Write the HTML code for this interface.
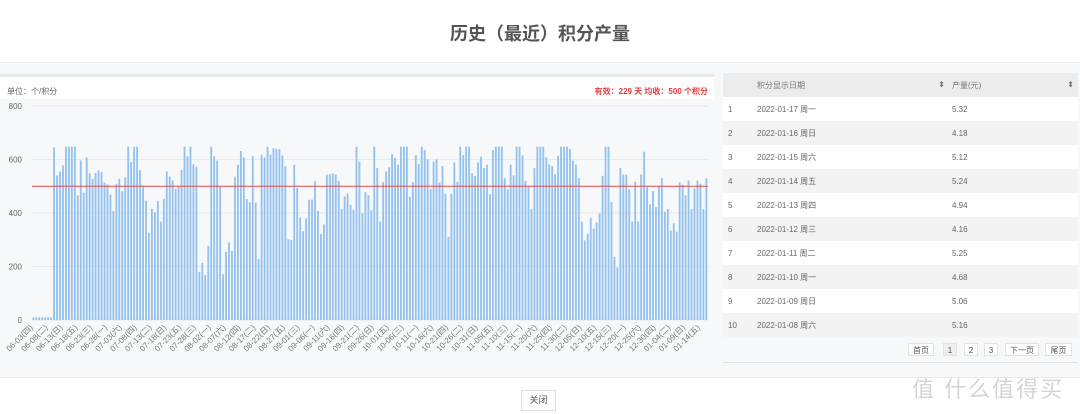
<!DOCTYPE html>
<html><head><meta charset="utf-8">
<style>
*{margin:0;padding:0;box-sizing:border-box}
body{width:1080px;height:414px;background:#fff;font-family:"Liberation Sans","Noto Sans CJK SC",sans-serif;position:relative;overflow:hidden}
.title{position:absolute;top:20px;left:0;width:1080px;text-align:center;font-size:18px;font-weight:bold;color:#555}
.panel{position:absolute;top:62px;left:0;width:1080px;height:316px;background:#f7f8fa;border-top:1px solid #eceef1;border-bottom:1px solid #e6e8eb}
.card{position:absolute;top:11px;left:0;width:714px;height:304px;border-top:3px solid #e8e9ec}
.unit{position:absolute;top:0;left:0;width:714px;height:22px;background:#fff;font-size:8px;color:#666;padding:9px 0 0 7px}
.eff{position:absolute;right:6px;top:9px;color:#e4393c;font-weight:bold;font-size:8px}
svg{position:absolute;left:0;top:0}
table{position:absolute;left:723px;top:73px;width:355px;border-collapse:collapse;font-size:8px;color:#666}
th{background:#ececec;height:24px;font-weight:normal;text-align:left;color:#777}
td{height:24px}
tr.o td{background:#fff} tr.e td{background:#f3f3f3}
.pg{position:absolute;top:343px;left:723px;width:355px;height:13px;font-size:8px;color:#555}
.pg span{position:absolute;top:0;height:13px;line-height:13px;text-align:center;background:#fff;border:1px solid #e2e2e2}
.tb{position:absolute;top:362px;left:723px;width:355px;border-top:1px solid #e2e2e2}
.btn{position:absolute;left:521px;top:390px;width:35px;height:21px;border:1px solid #ddd;background:#fff;font-size:9px;color:#555;text-align:center;line-height:19px}
.wm{position:absolute;left:912px;top:372px;font-size:22px;color:#d4d4d4;letter-spacing:2px}
</style></head><body>
<div class="title">历史（最近）积分产量</div>
<div class="panel">
 <div class="card"><div class="unit">单位：个/积分<span class="eff">有效：229 天 均收：500 个积分</span></div></div>
</div>
<svg id="c" width="720" height="414"></svg>
<table>
<tr><th style="width:30px"></th><th style="padding-left:4px;width:196px">积分显示日期<span style="float:right;padding-right:4px">⬍</span></th><th style="padding-left:3px">产量(元)<span style="float:right;padding-right:4px">⬍</span></th></tr>
<tr class="o"><td style="padding-left:5px">1</td><td style="padding-left:4px">2022-01-17 周一</td><td style="padding-left:3px">5.32</td></tr>
<tr class="e"><td style="padding-left:5px">2</td><td style="padding-left:4px">2022-01-16 周日</td><td style="padding-left:3px">4.18</td></tr>
<tr class="o"><td style="padding-left:5px">3</td><td style="padding-left:4px">2022-01-15 周六</td><td style="padding-left:3px">5.12</td></tr>
<tr class="e"><td style="padding-left:5px">4</td><td style="padding-left:4px">2022-01-14 周五</td><td style="padding-left:3px">5.24</td></tr>
<tr class="o"><td style="padding-left:5px">5</td><td style="padding-left:4px">2022-01-13 周四</td><td style="padding-left:3px">4.94</td></tr>
<tr class="e"><td style="padding-left:5px">6</td><td style="padding-left:4px">2022-01-12 周三</td><td style="padding-left:3px">4.16</td></tr>
<tr class="o"><td style="padding-left:5px">7</td><td style="padding-left:4px">2022-01-11 周二</td><td style="padding-left:3px">5.25</td></tr>
<tr class="e"><td style="padding-left:5px">8</td><td style="padding-left:4px">2022-01-10 周一</td><td style="padding-left:3px">4.68</td></tr>
<tr class="o"><td style="padding-left:5px">9</td><td style="padding-left:4px">2022-01-09 周日</td><td style="padding-left:3px">5.06</td></tr>
<tr class="e"><td style="padding-left:5px">10</td><td style="padding-left:4px">2022-01-08 周六</td><td style="padding-left:3px">5.16</td></tr>
</table>
<div class="pg">
<span style="left:185px;width:26px">首页</span>
<span style="left:220px;width:14px;background:#eee">1</span>
<span style="left:241px;width:14px">2</span>
<span style="left:261px;width:14px">3</span>
<span style="left:282px;width:34px">下一页</span>
<span style="left:322px;width:27px">尾页</span>
</div>
<div class="tb"></div>
<div class="btn">关闭</div>
<div class="wm">值 什么值得买</div>
<script>
var a=[10,10,10,10,10,10,10,645,540,555,578,648,648,648,648,466,597,476,608,548,528,550,560,553,514,506,469,408,508,528,482,534,648,590,648,648,560,502,446,326,415,403,445,368,453,555,536,522,490,498,560,648,612,648,582,574,180,214,168,277,648,612,596,498,171,254,290,258,534,580,632,608,452,440,612,438,228,618,608,648,618,642,640,638,615,575,302,300,580,494,383,332,380,449,450,518,408,321,357,543,545,547,543,520,415,462,473,430,412,648,592];
var b=[398,478,466,410,648,568,368,515,555,571,620,606,581,648,648,648,460,515,616,584,648,635,601,489,592,601,514,576,472,311,472,589,517,648,616,648,648,549,539,589,611,568,580,470,635,648,648,648,530,489,581,541,648,648,616,520,501,414,568,648,648,648,609,581,576,545,614,648,648,648,639,596,581,530,368,298,322,382,342,365,398,539,648,648,441,236,196,568,544,544,489,369,517,369,544,629,498,432,482,422,502,530,405,415,335,362,330,514,505,466,522,414,492,521,510,414,530];
var d=a.concat(b);var n=d.length;
var x0=32,x1=708,y0=320,k=214/800,p=(x1-x0)/n;
var s='';
[0,200,400,600,800].forEach(function(v){var y=y0-v*k;s+='<line x1="'+x0+'" x2="'+x1+'" y1="'+y+'" y2="'+y+'" stroke="#e8e9ec" stroke-width="1"/><text x="22" y="'+(y+3)+'" font-size="8" fill="#666" text-anchor="end">'+v+'</text>';});
for(var i=0;i<n;i++){var h=d[i]*k;s+='<rect x="'+(x0+i*p+0.4).toFixed(2)+'" y="'+(y0-h).toFixed(1)+'" width="'+(p*0.62).toFixed(2)+'" height="'+h.toFixed(1)+'" fill="#93c2ee"/>';}
s+='<line x1="'+x0+'" x2="'+x1+'" y1="'+(y0-500*k)+'" y2="'+(y0-500*k)+'" stroke="#e4494b" stroke-width="1"/>';
var wd='日一二三四五六';var st=new Date(2021,5,3);
for(var i=0;i<n;i+=5){var dt=new Date(st.getTime()+i*864e5);var m=('0'+(dt.getMonth()+1)).slice(-2),dd=('0'+dt.getDate()).slice(-2);var x=x0+i*p+p/2,y=y0+8;
s+='<text x="'+x+'" y="'+y+'" font-size="8" fill="#777" text-anchor="end" transform="rotate(-45 '+x+' '+y+')">'+m+'-'+dd+'('+wd[dt.getDay()]+')</text>';}
document.getElementById('c').innerHTML=s;
</script>
</body></html>
